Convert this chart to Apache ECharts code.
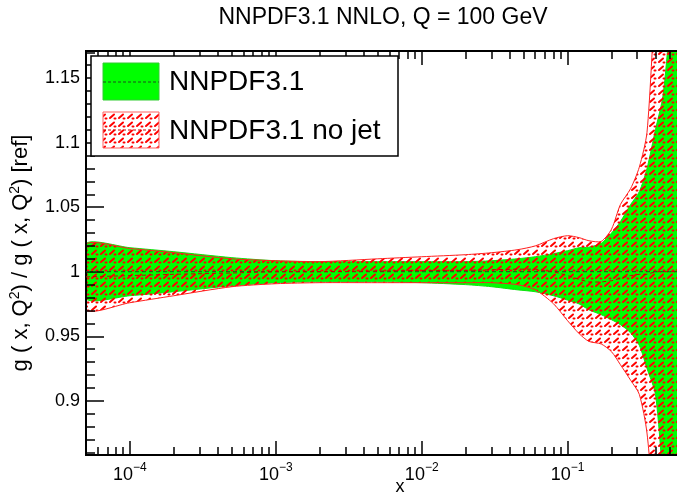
<!DOCTYPE html>
<html>
<head>
<meta charset="utf-8">
<title>NNPDF3.1 gluon ratio</title>
<script src="https://cdn.jsdelivr.net/npm/echarts@6.0.0/dist/echarts.min.js"></script>
<style>
  html, body { margin: 0; padding: 0; background: #fff; }
  #main { width: 677px; height: 496px; }
</style>
</head>
<body>
<div id="main"></div>
<script>
  // x points (same for all curves)
  var xs = [5e-5, 1e-4, 2e-4, 5e-4, 1e-3, 2e-3, 5e-3, 1e-2, 2e-2, 3e-2, 4.5e-2, 6e-2, 8e-2,
            0.1, 0.12, 0.14, 0.17, 0.2, 0.23, 0.27, 0.31, 0.35, 0.4, 0.45, 0.5, 0.6, 0.7];

  // NNPDF3.1 band (green)
  var greenUp = [1.0217, 1.0186, 1.0155, 1.0109, 1.0085, 1.0078, 1.0078, 1.0078, 1.0078, 1.0085, 1.010, 1.0116, 1.014,
                 1.0163, 1.0186, 1.019, 1.022, 1.030, 1.0388, 1.052, 1.062, 1.080, 1.110, 1.136, 1.19, 1.30, 1.45];
  var greenLo = [0.979, 0.9814, 0.9845, 0.9891, 0.9915, 0.9922, 0.9922, 0.9915, 0.990, 0.9884, 0.986, 0.9845, 0.9814,
                 0.978, 0.975, 0.9705, 0.9667, 0.9628, 0.959, 0.9527, 0.943, 0.925, 0.905, 0.84, 0.78, 0.70, 0.60];
  var greenMid = [1, 1, 1, 1, 1, 1, 1, 1, 1, 1, 1, 1, 1,
                  1, 1, 1, 1, 1, 1, 1, 1, 1, 1, 1, 1, 1, 1];

  // NNPDF3.1 no jet band (red hatched)
  var redUp = [1.021, 1.018, 1.0147, 1.010, 1.0085, 1.0078, 1.010, 1.0116, 1.0132, 1.0147, 1.017, 1.020, 1.0256,
               1.0279, 1.0264, 1.024, 1.0235, 1.033, 1.052, 1.0643, 1.081, 1.108, 1.21, 1.25, 1.35, 1.5, 1.7];
  var redLo = [0.9705, 0.976, 0.9814, 0.9884, 0.9907, 0.9915, 0.9915, 0.9915, 0.9915, 0.9915, 0.990, 0.986, 0.9752,
               0.962, 0.952, 0.946, 0.944, 0.938, 0.928, 0.916, 0.905, 0.875, 0.80, 0.75, 0.65, 0.5, 0.4];
  var redMid = [0.996, 0.997, 0.998, 0.999, 1.0, 1.0, 1.0005, 1.001, 1.001, 1.0015, 1.002, 1.002, 1.0,
                0.997, 0.994, 0.992, 0.992, 0.993, 0.995, 0.997, 0.998, 0.998, 1.0, 1.0, 1.0, 1.0, 1.0];

  // axes (the original frame runs past the right edge of the picture)
  var xMin = 5e-5, xMax = 0.562;
  var yMin = 0.858, yMax = 1.171;
  var xMajor = [1e-4, 1e-3, 1e-2, 1e-1];
  var xMinor = [6e-5, 7e-5, 8e-5, 9e-5,
                2e-4, 3e-4, 4e-4, 5e-4, 6e-4, 7e-4, 8e-4, 9e-4,
                2e-3, 3e-3, 4e-3, 5e-3, 6e-3, 7e-3, 8e-3, 9e-3,
                2e-2, 3e-2, 4e-2, 5e-2, 6e-2, 7e-2, 8e-2, 9e-2,
                0.2, 0.3, 0.4, 0.5];
  var yMajor = [0.9, 0.95, 1, 1.05, 1.1, 1.15];
  var yMinor = [0.86, 0.87, 0.88, 0.89, 0.91, 0.92, 0.93, 0.94, 0.96, 0.97, 0.98, 0.99,
                1.01, 1.02, 1.03, 1.04, 1.06, 1.07, 1.08, 1.09, 1.11, 1.12, 1.13, 1.14, 1.16, 1.17];

  var FONT = 'Liberation Sans, Arial, Helvetica, sans-serif';

  // ROOT-like hatch tile
  function hatchTile() {
    var c = document.createElement('canvas');
    c.width = 9; c.height = 8;
    var g = c.getContext('2d');
    g.strokeStyle = '#ff0000';
    g.lineWidth = 2;
    g.lineCap = 'round';
    g.beginPath(); g.moveTo(2, 6); g.lineTo(6, 2.5); g.stroke();
    g.beginPath(); g.moveTo(6.5, 6.5); g.lineTo(7.5, 6.5); g.stroke();
    return c;
  }
  var hatch = { image: hatchTile(), repeat: 'repeat' };

  function pairs(a) {
    var out = [];
    for (var i = 0; i < xs.length; i++) out.push([xs[i], a[i]]);
    return out;
  }
  function rows(lo, up) {
    var out = [];
    for (var i = 0; i < xs.length; i++) out.push([xs[i], lo[i], up[i]]);
    return out;
  }

  // band as one polygon, points mapped through the cartesian axes
  function bandSeries(name, lo, up, fill, stroke, z) {
    return {
      type: 'custom', name: name, coordinateSystem: 'cartesian2d', z: z, silent: true,
      data: rows(lo, up),
      encode: { x: 0, y: [1, 2] },
      renderItem: function (params, api) {
        if (params.dataIndex !== 0) return null;
        var pts = [];
        for (var i = 0; i < xs.length; i++) pts.push(api.coord([xs[i], up[i]]));
        for (var j = xs.length - 1; j >= 0; j--) pts.push(api.coord([xs[j], lo[j]]));
        var cs = params.coordSys;
        return {
          type: 'polygon',
          shape: { points: pts, smooth: 0.25 },
          style: { fill: fill, stroke: stroke, lineWidth: stroke ? 1 : 0 },
          clipPath: { type: 'rect', shape: { x: cs.x, y: cs.y, width: cs.width, height: cs.height } }
        };
      }
    };
  }

  function xAxisDef(pos, ticks, len, withLabels) {
    var ax = {
      type: 'log', logBase: 10, min: xMin, max: xMax, position: pos, z: 5,
      axisLine: { show: true, onZero: false, lineStyle: { color: '#000', width: 2 } },
      axisTick: { show: true, inside: true, length: len, customValues: ticks, lineStyle: { color: '#000', width: 1.5 } },
      axisLabel: { show: false },
      splitLine: { show: false }
    };
    if (withLabels) {
      ax.axisLabel = {
        show: true, customValues: xMajor, margin: 7, color: '#000', fontFamily: FONT,
        formatter: function (v) {
          var e = Math.round(Math.log10(v));
          return '{b|10}{s|' + String(e).replace('-', '\u2212') + '}';
        },
        rich: {
          b: { fontSize: 18, fontFamily: FONT, color: '#000', lineHeight: 22, verticalAlign: 'bottom' },
          s: { fontSize: 12, fontFamily: FONT, color: '#000', lineHeight: 22, verticalAlign: 'top', padding: [0, 0, 8, 0] }
        }
      };
    }
    return ax;
  }

  function yAxisDef(ticks, len, withLabels) {
    var ax = {
      type: 'value', min: yMin, max: yMax, position: 'left', z: 5,
      axisLine: { show: true, onZero: false, lineStyle: { color: '#000', width: 2 } },
      axisTick: { show: true, inside: true, length: len, customValues: ticks, lineStyle: { color: '#000', width: 1.5 } },
      axisLabel: { show: false },
      splitLine: { show: false }
    };
    if (withLabels) {
      ax.axisLabel = { show: true, customValues: yMajor, margin: 6, color: '#000', fontSize: 18, fontFamily: FONT };
      ax.name = 'g ( x, Q{sup|2}) / g ( x, Q{sup|2}) [ref]';
      ax.nameLocation = 'middle';
      ax.nameRotate = 90;
      ax.nameGap = 48;
      ax.nameTextStyle = {
        fontSize: 22, fontFamily: FONT, color: '#000', lineHeight: 26,
        rich: { sup: { fontSize: 14, fontFamily: FONT, color: '#000', verticalAlign: 'top', lineHeight: 26, padding: [0, 0, 11, 0] } }
      };
    }
    return ax;
  }

  function midLine(name, vals, color) {
    return { type: 'line', name: name, data: pairs(vals), symbol: 'none', silent: true, z: 6,
             lineStyle: { width: 1, color: color, type: [4, 3] } };
  }

  var chart = echarts.init(document.getElementById('main'), null, { renderer: 'canvas' });
  chart.setOption({
    animation: false,
    backgroundColor: '#fff',
    grid: { left: 86, top: 51, right: 0, bottom: 41, containLabel: false },
    xAxis: [
      xAxisDef('bottom', xMajor, 14, true),
      xAxisDef('bottom', xMinor, 8, false),
      xAxisDef('top', xMajor, 14, false),
      xAxisDef('top', xMinor, 8, false)
    ],
    yAxis: [
      yAxisDef(yMajor, 18, true),
      yAxisDef(yMinor, 9, false)
    ],
    series: [
      bandSeries('NNPDF3.1', greenLo, greenUp, '#00ff00', '#10e010', 2),
      bandSeries('NNPDF3.1 no jet', redLo, redUp, hatch, '#ff2020', 3),
      midLine('NNPDF3.1 central', greenMid, '#1f4f1f'),
      midLine('NNPDF3.1 no jet central', redMid, '#cc0000')
    ],
    graphic: [
      { type: 'text', x: 383, y: 18, z: 100,
        style: { text: 'NNPDF3.1 NNLO, Q = 100 GeV', fontSize: 23, fontFamily: FONT, fill: '#000', align: 'center', verticalAlign: 'middle' } },
      // the x title sits at the centre of the full (uncropped) frame
      { type: 'text', x: 400, y: 487, z: 100,
        style: { text: 'x', fontSize: 18, fontFamily: FONT, fill: '#000', align: 'center', verticalAlign: 'middle' } },
      // legend box
      { type: 'rect', z: 100, shape: { x: 91, y: 56, width: 307, height: 100 },
        style: { fill: '#fff', stroke: '#000', lineWidth: 1.5 } },
      { type: 'rect', z: 101, shape: { x: 103, y: 63, width: 56, height: 37 },
        style: { fill: '#00ff00', stroke: '#33cc33', lineWidth: 1 } },
      { type: 'line', z: 102, shape: { x1: 103, y1: 82, x2: 159, y2: 82 },
        style: { stroke: '#1f4f1f', lineWidth: 1, lineDash: [3, 2] } },
      { type: 'text', z: 102, x: 169, y: 82,
        style: { text: 'NNPDF3.1', fontSize: 28, fontFamily: FONT, fill: '#000', verticalAlign: 'middle' } },
      { type: 'rect', z: 101, shape: { x: 103, y: 112, width: 56, height: 36 },
        style: { fill: hatch, stroke: '#ff6060', lineWidth: 1 } },
      { type: 'line', z: 102, shape: { x1: 103, y1: 130, x2: 159, y2: 130 },
        style: { stroke: '#cc0000', lineWidth: 1, lineDash: [3, 2] } },
      { type: 'text', z: 102, x: 169, y: 131,
        style: { text: 'NNPDF3.1 no jet', fontSize: 28, fontFamily: FONT, fill: '#000', verticalAlign: 'middle' } }
    ]
  });
</script>
</body>
</html>
